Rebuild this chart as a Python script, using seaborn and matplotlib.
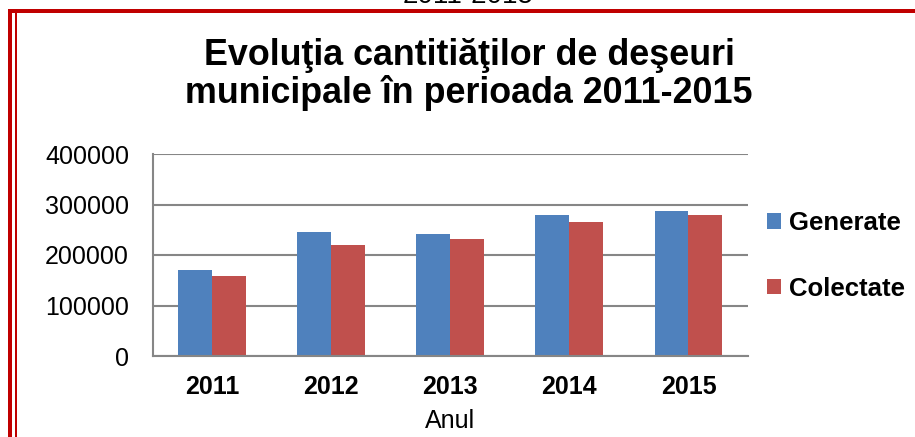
import matplotlib
matplotlib.use("Agg")
import matplotlib.pyplot as plt
from matplotlib.patches import Rectangle, Patch
import seaborn as sns
import pandas as pd

# Municipal waste quantities (tonnes) per year
years = ["2011", "2012", "2013", "2014", "2015"]
generate = [170300, 244900, 242200, 278600, 286500]
colectate = [158400, 219200, 231000, 265300, 279200]
series_names = ["Generate", "Colectate"]
colors = {"Generate": "#4F81BD", "Colectate": "#C0504D"}
y_ticks = [0, 100000, 200000, 300000, 400000]
title_lines = ["Evoluţia cantitiăţilor de deşeuri",
               "municipale în perioada 2011-2015"]

df = pd.DataFrame({
    "Anul": years * 2,
    "Cantitate": generate + colectate,
    "Serie": [series_names[0]] * len(years) + [series_names[1]] * len(years),
})

sns.set_theme(style="white")
plt.rcParams["font.family"] = ["Liberation Sans", "DejaVu Sans"]
plt.rcParams["text.color"] = "black"
plt.rcParams["axes.labelcolor"] = "black"

W, H = 915, 437
fig = plt.figure(figsize=(W / 100, H / 100), dpi=100)
ax = fig.add_axes([152.7 / W, (H - 356) / H, (748 - 152.7) / W, 202 / H])

sns.barplot(data=df, x="Anul", y="Cantitate", hue="Serie", order=years,
            hue_order=series_names, palette=colors, width=0.57,
            saturation=1, edgecolor="none", ax=ax, legend=False)

grid_color = "#868686"
ax.set_ylim(0, 400000)
ax.set_yticks(y_ticks)
ax.set_yticklabels([str(v) for v in y_ticks])
ax.set_xlim(-0.5, len(years) - 0.5)
ax.yaxis.grid(True, color=grid_color, linewidth=1.5)
ax.set_axisbelow(True)
for side in ["top", "right"]:
    ax.spines[side].set_visible(False)
for side in ["left", "bottom"]:
    ax.spines[side].set_color(grid_color)
    ax.spines[side].set_linewidth(1.5)
ax.tick_params(axis="both", length=0, colors="black")
ax.tick_params(axis="y", labelsize=18, pad=17)
ax.tick_params(axis="x", labelsize=18, pad=14)
for lbl in ax.get_xticklabels():
    lbl.set_fontweight("bold")
ax.set_ylabel("")
ax.set_xlabel("Anul", fontsize=18, labelpad=7, color="black")

handles = [Patch(facecolor=colors[n], edgecolor="none") for n in series_names]
leg = fig.legend(handles, series_names, loc="center left",
                 bbox_to_anchor=(767 / W, 1 - 256 / H), frameon=False,
                 borderpad=0, borderaxespad=0,
                 prop={"size": 18.5, "weight": "bold"},
                 handlelength=0.55, handleheight=0.55, handletextpad=0.3,
                 labelspacing=1.62)
for t in leg.get_texts():
    t.set_color("black")

for line, base_y in zip(title_lines, [65, 103]):
    fig.text(469 / W, 1 - base_y / H, line, ha="center", va="baseline",
             fontsize=25.8, fontweight="bold", color="black")

# Heading of the enclosing frame, mostly cut off above it
fig.text(468 / W, 1 - 3 / H, "2011-2015", ha="center", va="baseline",
         fontsize=20, color="black")

# Red double frame on the top and left
red = "#C00000"
fig.add_artist(Rectangle((8 / W, 1 - 13 / H), 1, 4 / H, transform=fig.transFigure,
                         facecolor=red, edgecolor="none"))
fig.add_artist(Rectangle((8 / W, 0), 4 / W, 1 - 9 / H, transform=fig.transFigure,
                         facecolor=red, edgecolor="none"))
fig.add_artist(Rectangle((15 / W, 0), 2 / W, 1 - 13 / H, transform=fig.transFigure,
                         facecolor=red, edgecolor="none"))

fig.savefig("out.png", dpi=100, facecolor="white")
